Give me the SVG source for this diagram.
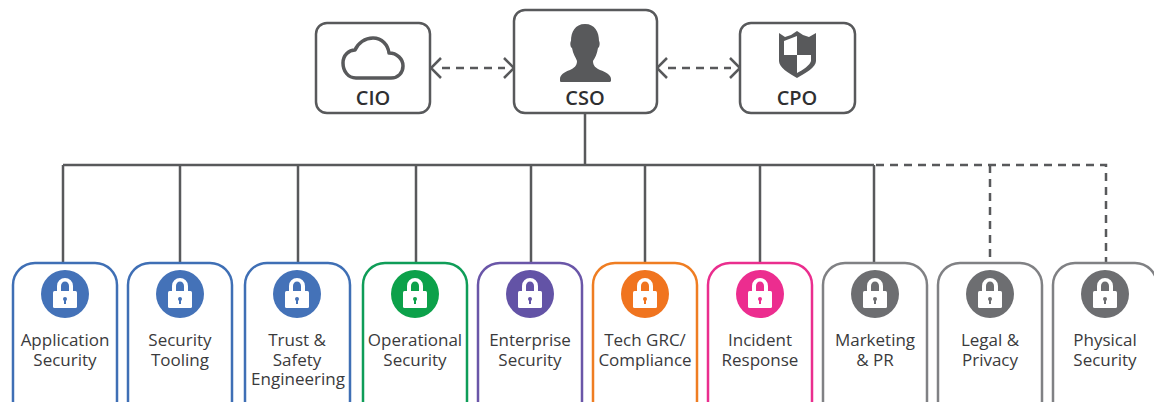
<svg xmlns="http://www.w3.org/2000/svg" width="1154" height="402" viewBox="0 0 1154 402">
<style>
.top{fill:#fff;stroke:#58595b;stroke-width:2.5}
.card{fill:#fff;stroke-width:2.5}
.t{font-family:"Open Sans","Noto Sans",sans-serif;font-size:17px;fill:#3a3a3c;text-anchor:middle}
.h{font-family:"Open Sans","Noto Sans",sans-serif;font-size:20px;font-weight:600;fill:#2f2f31;text-anchor:middle}
.ln{fill:none;stroke:#58595b;stroke-width:2.5}
.dash{fill:none;stroke:#58595b;stroke-width:2.5;stroke-dasharray:8 6}
.ah{fill:none;stroke:#58595b;stroke-width:2.5}
</style>
<defs>
<g id="lock">
<path d="M-8 -2V-8A8 8 0 0 1 8 -8V-2H4V-8A4 4.500 0 0 0 -4 -8V-2Z" fill="#fff"/>
<rect x="-12" y="-3" width="24" height="17" rx="1.500" fill="#fff"/>
</g>
</defs>
<g id="connectors">
<path class="ln" d="M585 113V165M63 165H874M63 165V263M180 165V263M298 165V263M416 165V263M531 165V263M645 165V263M760 165V263M874 165V263"/>
<path class="dash" d="M876 165H1106V263M990 165V263"/>
<path class="dash" d="M442 68H505M668 68H731"/>
<path class="ah" d="M441 58L431 68L441 78M504 58L514 68L504 78M667 58L657 68L667 78M730 58L740 68L730 78"/>
</g>
<g id="cio"><rect class="top" x="316" y="23" width="114" height="90" rx="11"/>
<path d="M356 78C348 78 343 71 343 63C343 55 349 50 355 50C358 43 365 38 373 38C382 38 388 45 389 53C397 53 403 59 403 66C403 73 398 78 391 78Z" fill="none" stroke="#58595b" stroke-width="3.500" stroke-linejoin="round"/>
<text class="h" x="373" y="105">CIO</text></g>
<g id="cso"><rect class="top" x="514" y="10" width="143" height="103" rx="11"/>
<path d="M585 24C575 24 571 32 571 41C570 42 570 47 572 48C573 54 576 58 577 61C577 66 574 68 570 70C564 72 560 75 560 79V81C560 82 561 82 563 82H607C609 82 611 82 611 81V79C611 75 606 72 600 70C596 68 593 66 593 61C595 58 597 54 598 48C600 47 600 42 599 41C599 32 595 24 585 24Z" fill="#58595b"/>
<text class="h" x="585" y="105">CSO</text></g>
<g id="cpo"><rect class="top" x="740" y="23" width="115" height="90" rx="11"/>
<path d="M779 33L785 37L791 35L797 31L803 35L809 37L816 33V61C816 67 806 73 797 78C788 73 779 67 779 61Z" fill="#58595b"/>
<path d="M784 41L797 36V55H784ZM797 55H811V61C810 65 803 70 797 73Z" fill="#fff"/>
<text class="h" x="797" y="105">CPO</text></g>
<g id="application-security"><rect class="card" x="13" y="263" width="104" height="160" rx="22" stroke="#3f6fb5"/><circle cx="65" cy="294" r="24" fill="#4472b8"/><use href="#lock" x="65" y="294"/><circle cx="65" cy="299" r="2" fill="#4472b8"/><rect x="64" y="299" width="2" height="5" fill="#4472b8"/><text class="t" x="65" y="346">Application</text><text class="t" x="65" y="366">Security</text></g>
<g id="security-tooling"><rect class="card" x="128" y="263" width="104" height="160" rx="22" stroke="#3f6fb5"/><circle cx="180" cy="294" r="24" fill="#4472b8"/><use href="#lock" x="180" y="294"/><circle cx="180" cy="299" r="2" fill="#4472b8"/><rect x="179" y="299" width="2" height="5" fill="#4472b8"/><text class="t" x="180" y="346">Security</text><text class="t" x="180" y="366">Tooling</text></g>
<g id="trust-safety"><rect class="card" x="245" y="263" width="105" height="160" rx="22" stroke="#3f6fb5"/><circle cx="297" cy="294" r="24" fill="#4472b8"/><use href="#lock" x="297" y="294"/><circle cx="297" cy="299" r="2" fill="#4472b8"/><rect x="296" y="299" width="2" height="5" fill="#4472b8"/><text class="t" x="297" y="346">Trust &amp;</text><text class="t" x="297" y="366">Safety</text><text class="t" x="298" y="385">Engineering</text></g>
<g id="operational-security"><rect class="card" x="363" y="263" width="104" height="160" rx="22" stroke="#0f9d58"/><circle cx="415" cy="294" r="24" fill="#0ca14a"/><use href="#lock" x="415" y="294"/><circle cx="415" cy="299" r="2" fill="#0ca14a"/><rect x="414" y="299" width="2" height="5" fill="#0ca14a"/><text class="t" x="415" y="346">Operational</text><text class="t" x="415" y="366">Security</text></g>
<g id="enterprise-security"><rect class="card" x="478" y="263" width="104" height="160" rx="22" stroke="#6a56a8"/><circle cx="530" cy="294" r="24" fill="#6353a6"/><use href="#lock" x="530" y="294"/><circle cx="530" cy="299" r="2" fill="#6353a6"/><rect x="529" y="299" width="2" height="5" fill="#6353a6"/><text class="t" x="530" y="346">Enterprise</text><text class="t" x="530" y="366">Security</text></g>
<g id="tech-grc"><rect class="card" x="593" y="263" width="104" height="160" rx="22" stroke="#ef7d22"/><circle cx="645" cy="294" r="24" fill="#f0741f"/><use href="#lock" x="645" y="294"/><circle cx="645" cy="299" r="2" fill="#f0741f"/><rect x="644" y="299" width="2" height="5" fill="#f0741f"/><text class="t" x="645" y="346">Tech GRC/</text><text class="t" x="645" y="366">Compliance</text></g>
<g id="incident-response"><rect class="card" x="708" y="263" width="104" height="160" rx="22" stroke="#ea2e8e"/><circle cx="760" cy="294" r="24" fill="#ec2d8f"/><use href="#lock" x="760" y="294"/><circle cx="760" cy="299" r="2" fill="#ec2d8f"/><rect x="759" y="299" width="2" height="5" fill="#ec2d8f"/><text class="t" x="760" y="346">Incident</text><text class="t" x="760" y="366">Response</text></g>
<g id="marketing-pr"><rect class="card" x="823" y="263" width="104" height="160" rx="22" stroke="#808184"/><circle cx="875" cy="294" r="24" fill="#6d6e71"/><use href="#lock" x="875" y="294"/><circle cx="875" cy="299" r="2" fill="#6d6e71"/><rect x="874" y="299" width="2" height="5" fill="#6d6e71"/><text class="t" x="875" y="346">Marketing</text><text class="t" x="875" y="366">&amp; PR</text></g>
<g id="legal-privacy"><rect class="card" x="938" y="263" width="104" height="160" rx="22" stroke="#808184"/><circle cx="990" cy="294" r="24" fill="#6d6e71"/><use href="#lock" x="990" y="294"/><circle cx="990" cy="299" r="2" fill="#6d6e71"/><rect x="989" y="299" width="2" height="5" fill="#6d6e71"/><text class="t" x="990" y="346">Legal &amp;</text><text class="t" x="990" y="366">Privacy</text></g>
<g id="physical-security"><rect class="card" x="1053" y="263" width="104" height="160" rx="22" stroke="#808184"/><circle cx="1105" cy="294" r="24" fill="#6d6e71"/><use href="#lock" x="1105" y="294"/><circle cx="1105" cy="299" r="2" fill="#6d6e71"/><rect x="1104" y="299" width="2" height="5" fill="#6d6e71"/><text class="t" x="1105" y="346">Physical</text><text class="t" x="1105" y="366">Security</text></g>
</svg>
